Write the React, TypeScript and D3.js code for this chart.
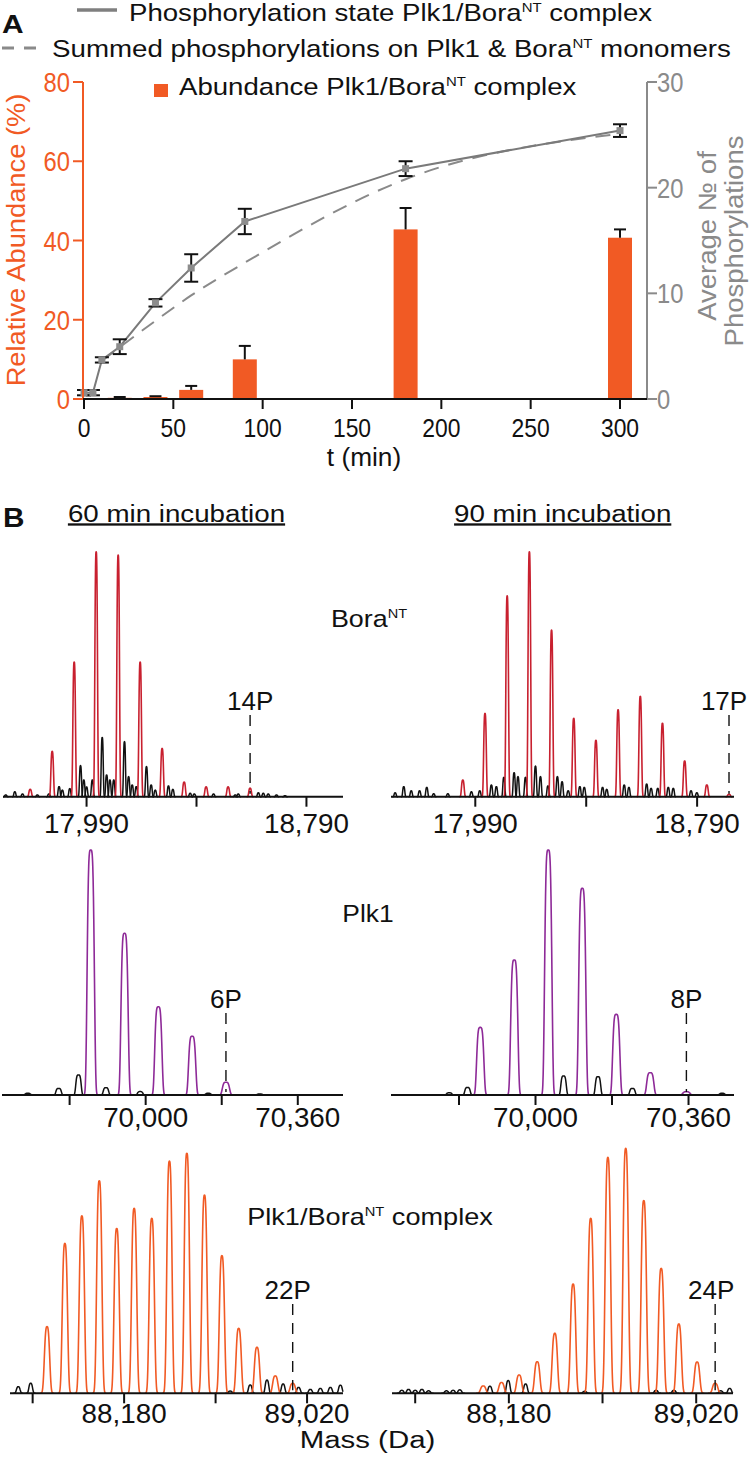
import React from 'react';
import * as d3 from 'd3';

// ---------------- Panel A data ----------------
const timePoints = [0, 5, 10, 20, 40, 60, 90, 180, 300];
const complexPhos = [0.6, 0.6, 3.7, 4.95, 9.1, 12.4, 16.8, 21.8, 25.4];
const complexPhosErr = [0.25, 0.25, 0.25, 0.7, 0.35, 1.3, 1.2, 0.7, 0.6];
const summedTimes = [10, 20, 40, 60, 90, 180, 300];
const summedPhos = [3.6, 4.9, 7.4, 9.8, 12.9, 20.8, 25.1];
const abundTimes = [5, 20, 40, 60, 90, 180, 300];
const abundance = [0.2, 0.3, 0.5, 2.3, 10.0, 42.8, 40.7];
const abundanceErr = [0, 0.2, 0.2, 1.0, 3.4, 5.4, 2.1];
const timeTicks = [0, 50, 100, 150, 200, 250, 300];
const abundTicks = [0, 20, 40, 60, 80];
const phosTicks = [0, 10, 20, 30];

// ---------------- Panel B data ----------------
const boraDomain = [17686, 18923];
const boraTicks = [17990, 18390, 18790];
const boraTickLabels = ['17,990', '', '18,790'];
const plkDomain = [69660, 70467];
const plkTicks = [69820, 70000, 70180, 70360];
const plkTickLabels = ['', '70,000', '', '70,360'];
const cxDomain = [87656, 89185];
const cxTicks = [87760, 88180, 88600, 89020];
const cxTickLabels = ['', '88,180', '', '89,020'];

const bora60Mass = [17785, 17865, 17945, 18025, 18105, 18185, 18265, 18345, 18425, 18505, 18585];
const bora60Int = [0.03, 0.185, 0.55, 1.0, 0.987, 0.55, 0.197, 0.06, 0.04, 0.04, 0.035];
const bora60NoiseMass = [17696, 17729, 17757, 17811, 17853, 17890, 17902, 17929, 17968, 17980, 17990, 18011, 18047, 18063, 18075, 18089, 18128, 18143, 18156, 18171, 18208, 18225, 18240, 18288, 18304, 18367, 18382, 18452, 18531, 18542, 18615, 18633, 18651, 18681, 18712];
const bora60NoiseInt = [0.007, 0.02, 0.011, 0.007, 0.011, 0.041, 0.027, 0.033, 0.127, 0.068, 0.04, 0.068, 0.242, 0.089, 0.068, 0.068, 0.225, 0.082, 0.048, 0.041, 0.123, 0.048, 0.027, 0.044, 0.03, 0.014, 0.011, 0.011, 0.007, 0.011, 0.016, 0.014, 0.011, 0.007, 0.004];

const bora90Mass = [17945, 18025, 18105, 18185, 18265, 18345, 18425, 18505, 18585, 18665, 18745, 18825, 18905];
const bora90Int = [0.068, 0.34, 0.82, 1.0, 0.68, 0.32, 0.23, 0.355, 0.41, 0.30, 0.146, 0.048, 0.01];
const bora90NoiseMass = [17701, 17732, 17759, 17789, 17815, 17840, 17891, 17976, 18006, 18048, 18066, 18093, 18130, 18144, 18171, 18207, 18225, 18252, 18286, 18303, 18325, 18367, 18383, 18449, 18464, 18527, 18544, 18608, 18624, 18648, 18686, 18704, 18768, 18789];
const bora90NoiseInt = [0.016, 0.041, 0.024, 0.024, 0.038, 0.012, 0.012, 0.02, 0.024, 0.048, 0.041, 0.079, 0.098, 0.082, 0.079, 0.125, 0.082, 0.044, 0.082, 0.061, 0.024, 0.041, 0.038, 0.038, 0.03, 0.048, 0.038, 0.052, 0.034, 0.034, 0.038, 0.034, 0.024, 0.016];

const plk60Mass = [69870, 69950, 70030, 70110, 70190];
const plk60Int = [1.0, 0.66, 0.36, 0.24, 0.052];
const plk60NoiseMass = [69721, 69794, 69841, 69906, 69987, 70148, 70270];
const plk60NoiseInt = [0.007, 0.027, 0.082, 0.03, 0.014, 0.007, 0.004];

const plk90Mass = [69870, 69950, 70030, 70110, 70190, 70270, 70355];
const plk90Int = [0.276, 0.551, 1.0, 0.844, 0.329, 0.091, 0.0135];
const plk90NoiseMass = [69797, 69840, 70066, 70147, 70228, 70439];
const plk90NoiseInt = [0.009, 0.031, 0.078, 0.075, 0.027, 0.007];

const cx60Mass = [87826, 87908, 87986, 88066, 88146, 88226, 88307, 88388, 88468, 88549, 88629, 88706, 88790, 88874, 88954];
const cx60Int = [0.272, 0.612, 0.725, 0.868, 0.673, 0.755, 0.714, 0.948, 0.98, 0.809, 0.562, 0.265, 0.188, 0.071, 0.041];
const cx60NoiseMass = [87694, 87751, 88667, 88759, 88836, 88910, 88981, 89035, 89081, 89127, 89173];
const cx60NoiseInt = [0.027, 0.041, 0.009, 0.034, 0.054, 0.038, 0.024, 0.016, 0.02, 0.024, 0.033];

const cx90Mass = [88065, 88147, 88226, 88307, 88386, 88468, 88547, 88624, 88704, 88785, 88863, 88942, 89024, 89105];
const cx90Int = [0.03, 0.044, 0.075, 0.129, 0.245, 0.446, 0.714, 0.963, 1.0, 0.787, 0.51, 0.283, 0.128, 0.041];
const cx90NoiseMass = [87700, 87730, 87760, 87790, 87820, 87900, 87930, 87960, 88095, 88177, 88255, 88520, 88840, 88920, 89130, 89170];
const cx90NoiseInt = [0.012, 0.016, 0.012, 0.016, 0.01, 0.01, 0.012, 0.014, 0.029, 0.052, 0.038, 0.008, 0.012, 0.012, 0.01, 0.02];

const peakLabels = ['14P', '17P', '6P', '8P', '22P', '24P'];
const peakLabelMass = [18585, 18905, 70190, 70355, 88954, 89105];

const ORANGE = '#F15A24';
const GREY = '#8a8a8a';
const RED = '#C8202F';
const PURPLE = '#8E2A98';
const FONT = '"Liberation Sans", Arial, Helvetica, sans-serif';

function T({ x, y, sx = 1, rot = 0, anchor = 'middle', size, fill = '#111', weight, deco, children }: any) {
  return (
    <g transform={`translate(${x},${y}) rotate(${rot}) scale(${sx},1)`}>
      <text textAnchor={anchor} fontSize={size} fill={fill} fontWeight={weight} textDecoration={deco} fontFamily={FONT}>
        {children}
      </text>
    </g>
  );
}

function Sup({ text, after, size = 13, dy = 9 }: any) {
  return (
    <>
      <tspan dy={-dy} fontSize={size}>{text}</tspan>
      {after ? <tspan dy={dy}>{after}</tspan> : null}
    </>
  );
}

function Spectrum({ r0, r1, domain, baseline, main, mainInt, noise, noiseInt, color, shape, ticks, tickLabels, tickDy, label, labelMass, labelDx, labelY }: any) {
  const xs = d3.scaleLinear().domain(domain).range([r0, r1]);
  const H = 245;
  const line = d3.line<[number, number]>().x(d => xs(d[0])).y(d => baseline - d[1] * H).curve(d3.curveBasis);
  const peak = (m: number, a: number, s: number, p: number) => {
    const pts: [number, number][] = d3.range(-2.8, 2.801, 0.1).map(k => [m + k * s, a * Math.exp(-0.5 * Math.pow(Math.abs(k), p))] as [number, number]);
    return line(pts.filter(q => q[0] >= domain[0] && q[0] <= domain[1]));
  };
  const lx = xs(labelMass);
  return (
    <g>
      {noise.map((m: number, i: number) => (
        <path key={'n' + i} d={peak(m, noiseInt[i], shape.ns, shape.p) || ''} fill="none" stroke="#111" strokeWidth={1.5} />
      ))}
      {main.map((m: number, i: number) => (
        <path key={'m' + i} d={peak(m, mainInt[i], shape.s, shape.p) || ''} fill="none" stroke={color} strokeWidth={1.6} />
      ))}
      <line x1={r0} x2={r1} y1={baseline} y2={baseline} stroke="#111" strokeWidth={2} />
      {ticks.map((t: number, i: number) => (
        <g key={'t' + i}>
          <line x1={xs(t)} x2={xs(t)} y1={baseline} y2={baseline + 10} stroke="#111" strokeWidth={2} />
          {tickLabels[i] ? <T x={xs(t)} y={baseline + tickDy} size={27} sx={1.03}>{tickLabels[i]}</T> : null}
        </g>
      ))}
      <line x1={lx} x2={lx} y1={labelY + 5} y2={baseline - 3} stroke="#111" strokeWidth={1.4} strokeDasharray="11,8" />
      <T x={lx + labelDx} y={labelY} size={26}>{label}</T>
    </g>
  );
}

export default function App() {
  const x = d3.scaleLinear().domain([0, 300]).range([84, 620]);
  const yL = d3.scaleLinear().domain([0, 80]).range([399, 82]);
  const yR = d3.scaleLinear().domain([0, 30]).range([399, 82]);
  const barW = 24;
  const solidPath = d3.line<number>().x((_, i) => x(timePoints[i])).y(d => yR(d))(complexPhos) || '';
  const dashPath = d3.line<number>().x((_, i) => x(summedTimes[i])).y(d => yR(d)).curve(d3.curveMonotoneX)(summedPhos) || '';

  const rows = [
    { baseline: 796.7, tickDy: 36, labelY: 710, domain: boraDomain, ticks: boraTicks, tickLabels: boraTickLabels, color: RED, shape: { s: 4.6, ns: 3.6, p: 3 }, ranges: [[3, 343], [391, 734]] },
    { baseline: 1095, tickDy: 32, labelY: 1008, domain: plkDomain, ticks: plkTicks, tickLabels: plkTickLabels, color: PURPLE, shape: { s: 8, ns: 6, p: 4 }, ranges: [[2, 343], [391, 734]] },
    { baseline: 1393.3, tickDy: 30, labelY: 1299, domain: cxDomain, ticks: cxTicks, tickLabels: cxTickLabels, color: ORANGE, shape: { s: 11.5, ns: 8, p: 3 }, ranges: [[10, 343], [392, 733]] },
  ];
  const series = [
    [bora60Mass, bora60Int, bora60NoiseMass, bora60NoiseInt],
    [bora90Mass, bora90Int, bora90NoiseMass, bora90NoiseInt],
    [plk60Mass, plk60Int, plk60NoiseMass, plk60NoiseInt],
    [plk90Mass, plk90Int, plk90NoiseMass, plk90NoiseInt],
    [cx60Mass, cx60Int, cx60NoiseMass, cx60NoiseInt],
    [cx90Mass, cx90Int, cx90NoiseMass, cx90NoiseInt],
  ];
  const labelDx = [0, -5, 0, 0, -5, -4];

  return (
    <svg width={749} height={1462} style={{ position: 'absolute', left: 0, top: 0, background: '#fff' }} fontFamily={FONT}>
      <rect width={749} height={1462} fill="#fff" />
      {/* ---------- Panel A ---------- */}
      <T x={2} y={33} size={26} weight="bold" anchor="start" sx={1.15}>A</T>
      {/* legend */}
      <line x1={77} x2={117} y1={10} y2={10} stroke="#7f7f7f" strokeWidth={3.5} />
      <T x={129} y={21} size={24} sx={1.15} anchor="start">Phosphorylation state Plk1/Bora<Sup text="NT" after=" complex" /></T>
      <line x1={2} x2={36} y1={48} y2={48} stroke={GREY} strokeWidth={3} strokeDasharray="12,10" />
      <T x={52} y={57} size={24} sx={1.155} anchor="start">Summed phosphorylations on Plk1 &amp; Bora<Sup text="NT" after=" monomers" /></T>
      <rect x={154} y={84} width={14} height={13} fill={ORANGE} />
      <T x={179} y={95} size={24} sx={1.15} anchor="start">Abundance Plk1/Bora<Sup text="NT" after=" complex" /></T>

      {/* bars */}
      {abundTimes.map((t, i) => (
        <rect key={'b' + i} x={x(t) - barW / 2} y={yL(abundance[i])} width={barW} height={399 - yL(abundance[i])} fill={ORANGE} />
      ))}
      {abundTimes.map((t, i) => abundanceErr[i] > 0 ? (
        <g key={'be' + i} stroke="#111" strokeWidth={2}>
          <line x1={x(t)} x2={x(t)} y1={yL(abundance[i])} y2={yL(abundance[i] + abundanceErr[i])} />
          <line x1={x(t) - 6} x2={x(t) + 6} y1={yL(abundance[i] + abundanceErr[i])} y2={yL(abundance[i] + abundanceErr[i])} />
        </g>
      ) : null)}

      {/* lines */}
      <path d={dashPath} fill="none" stroke={GREY} strokeWidth={2} strokeDasharray="15,10" />
      <path d={solidPath} fill="none" stroke="#7a7a7a" strokeWidth={2} />
      {timePoints.map((t, i) => {
        const lo = yR(complexPhos[i] - complexPhosErr[i]);
        const hi = yR(complexPhos[i] + complexPhosErr[i]);
        return (
          <g key={'e' + i} stroke="#111" strokeWidth={2}>
            <line x1={x(t)} x2={x(t)} y1={lo} y2={hi} />
            <line x1={x(t) - 7} x2={x(t) + 7} y1={lo} y2={lo} />
            <line x1={x(t) - 7} x2={x(t) + 7} y1={hi} y2={hi} />
          </g>
        );
      })}
      {timePoints.map((t, i) => (
        <rect key={'m' + i} x={x(t) - 3.5} y={yR(complexPhos[i]) - 3.5} width={7} height={7} fill="#8c8c8c" />
      ))}

      {/* axes */}
      <line x1={83} x2={83} y1={82} y2={399} stroke={ORANGE} strokeWidth={2} />
      {abundTicks.map(v => (
        <g key={'lt' + v}>
          <line x1={73} x2={83} y1={yL(v)} y2={yL(v)} stroke={ORANGE} strokeWidth={2} />
          <T x={70} y={yL(v) + 10} size={27} sx={0.88} anchor="end" fill={ORANGE}>{v}</T>
        </g>
      ))}
      <line x1={647} x2={647} y1={82} y2={399} stroke={GREY} strokeWidth={2} />
      {phosTicks.map(v => (
        <g key={'rt' + v}>
          <line x1={647} x2={657} y1={yR(v)} y2={yR(v)} stroke={GREY} strokeWidth={2} />
          <T x={657} y={yR(v) + 10} size={27} sx={0.88} anchor="start" fill={GREY}>{v}</T>
        </g>
      ))}
      <line x1={83} x2={647} y1={399} y2={399} stroke="#111" strokeWidth={2} />
      {timeTicks.map(v => (
        <g key={'xt' + v}>
          <line x1={x(v)} x2={x(v)} y1={399} y2={409} stroke="#111" strokeWidth={2} />
          <T x={x(v)} y={437} size={26} sx={0.88}>{v}</T>
        </g>
      ))}
      <T x={364} y={466} size={25} sx={1.05}>t (min)</T>
      <T x={25} y={240} rot={-90} size={26} sx={1.05} fill={ORANGE}>Relative Abundance (%)</T>
      <T x={716} y={236} rot={-90} size={25} sx={1.1} fill={GREY}>Average № of</T>
      <T x={743} y={241} rot={-90} size={25} sx={1.1} fill={GREY}>Phosphorylations</T>

      {/* ---------- Panel B ---------- */}
      <T x={3} y={527} size={27} weight="bold" anchor="start" sx={1.1}>B</T>
      <T x={176.5} y={521.5} size={23.3} sx={1.19} deco="underline">60 min incubation</T>
      <T x={562.7} y={521.5} size={23.3} sx={1.19} deco="underline">90 min incubation</T>
      <T x={369} y={627} size={24} sx={1.12}>Bora<Sup text="NT" /></T>
      <T x={368} y={921.5} size={24} sx={1.1}>Plk1</T>
      <T x={370} y={1225} size={24} sx={1.13}>Plk1/Bora<Sup text="NT" after=" complex" /></T>
      <T x={367.5} y={1448} size={24.5} sx={1.2}>Mass (Da)</T>

      {series.map((s, k) => {
        const row = rows[Math.floor(k / 2)];
        const rng = row.ranges[k % 2];
        return (
          <Spectrum key={'sp' + k}
            r0={rng[0]} r1={rng[1]} domain={row.domain} baseline={row.baseline}
            main={s[0]} mainInt={s[1]} noise={s[2]} noiseInt={s[3]}
            color={row.color} shape={row.shape}
            ticks={row.ticks} tickLabels={row.tickLabels} tickDy={row.tickDy}
            label={peakLabels[k]} labelMass={peakLabelMass[k]} labelDx={labelDx[k]} labelY={row.labelY} />
        );
      })}
    </svg>
  );
}
